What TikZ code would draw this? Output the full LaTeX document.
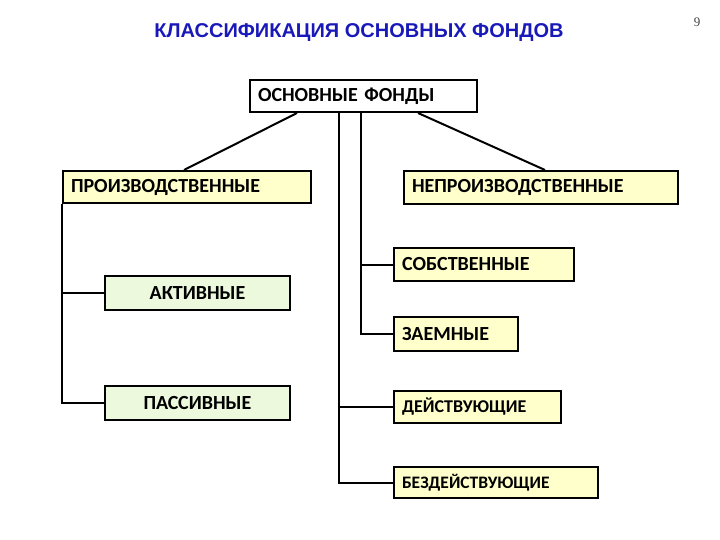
\documentclass[tikz,border=0pt]{standalone}
\usepackage{fontspec}
\setmainfont{Carlito}
\newfontfamily\titlefont{Liberation Sans}
\newfontfamily\pagefont{Liberation Serif}
\definecolor{boxyellow}{RGB}{255,255,204}
\definecolor{boxgreen}{RGB}{236,249,220}
\definecolor{titleblue}{RGB}{25,25,185}
\begin{document}
\begin{tikzpicture}[x=1pt,y=-1pt,
    box/.style={draw, line width=2pt, anchor=north west, inner xsep=8pt,
      inner ysep=0pt, align=left, font=\fontsize{20}{20}\selectfont\bfseries},
    ybox/.style={box, fill=boxyellow},
    gbox/.style={box, fill=boxgreen, align=center},
    link/.style={line width=2pt}]
  \useasboundingbox (0,0) rectangle (720,540);
  \node[text=titleblue, font=\titlefont\fontsize{20}{20}\selectfont\bfseries] (title) at (359,33) {КЛАССИФИКАЦИЯ ОСНОВНЫХ ФОНДОВ};
  \node[text=black!75, font=\pagefont\fontsize{13}{13}\selectfont] (page) at (697,22) {9};

  \node[box, fill=white, text width=211pt, minimum height=32pt] (osn) at (249,79) {ОСНОВНЫЕ ФОНДЫ};
  \node[ybox, text width=232pt, minimum height=32pt] (proizv) at (62,170) {ПРОИЗВОДСТВЕННЫЕ};
  \node[ybox, text width=258pt, minimum height=33pt] (neproizv) at (403,170) {НЕПРОИЗВОДСТВЕННЫЕ};
  \node[ybox, text width=164pt, minimum height=33pt] (sobst) at (393,247) {СОБСТВЕННЫЕ};
  \node[gbox, text width=169pt, minimum height=34pt] (aktiv) at (104,275) {АКТИВНЫЕ};
  \node[ybox, text width=108pt, minimum height=34pt] (zaem) at (393,316) {ЗАЕМНЫЕ};
  \node[gbox, text width=169pt, minimum height=34pt] (passiv) at (104,385) {ПАССИВНЫЕ};
  \node[ybox, text width=151pt, minimum height=32pt, font=\fontsize{18}{18}\selectfont\bfseries] (deist) at (393,390) {ДЕЙСТВУЮЩИЕ};
  \node[ybox, text width=188pt, minimum height=31pt, font=\fontsize{17.5}{17.5}\selectfont\bfseries] (bezd) at (393,466) {БЕЗДЕЙСТВУЮЩИЕ};

  \draw[link] ([xshift=-66.5pt]osn.south) -- ([xshift=-3pt]proizv.north);
  \draw[link] ([xshift=54.5pt]osn.south) -- ([xshift=4pt]neproizv.north);
  \draw[link] (proizv.south west) |- (aktiv.west);
  \draw[link] (proizv.south west) |- (passiv.west);
  \draw[link] ([xshift=-2.5pt]osn.south) |- (sobst.west);
  \draw[link] ([xshift=-2.5pt]osn.south) |- (zaem.west);
  \draw[link] ([xshift=-24.5pt]osn.south) |- (deist.west);
  \draw[link] ([xshift=-24.5pt]osn.south) |- (bezd.west);
\end{tikzpicture}
\end{document}
